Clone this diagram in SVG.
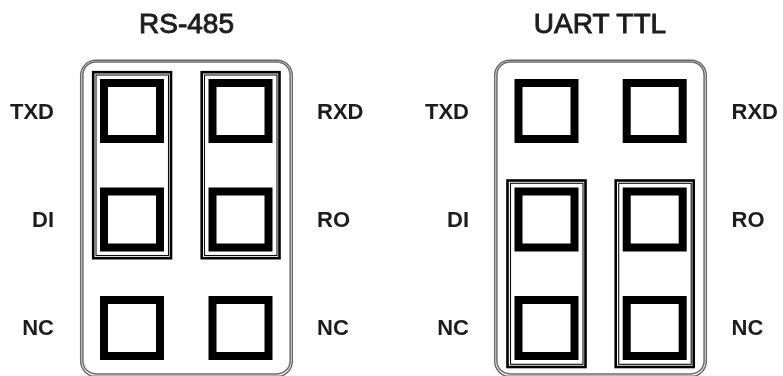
<svg xmlns="http://www.w3.org/2000/svg" width="783" height="376" viewBox="0 0 783 376">
<defs>
<filter id="soft" x="0" y="0" width="783" height="376" filterUnits="userSpaceOnUse"><feGaussianBlur stdDeviation="0.55"/></filter>
<rect id="pin" width="56" height="56"/>
</defs>
<style>
.t{font-family:"Liberation Sans",Arial,sans-serif;fill:#1c1c1c}
.h{font-size:28px;text-anchor:middle;stroke:#1c1c1c;stroke-width:.9}
.l{font-size:22px;font-weight:bold}
.e{text-anchor:end}
.fo{fill:none;stroke:#6a6a6a;stroke-width:1.5}
.fi{fill:none;stroke:#6a6a6a;stroke-width:1.5}
.go{fill:none;stroke:#000;stroke-width:2.6}
.gi{fill:none;stroke:#111;stroke-width:1.1}
.p{fill:#fff;stroke:#000;stroke-width:8}
</style>
<rect width="783" height="376" fill="#fff"/>
<g filter="url(#soft)">
<g id="rs485">
<text class="t h" x="186.500" y="33">RS-485</text>
<rect class="fo" x="80.700" y="60.300" width="211.600" height="316" rx="15"/>
<rect class="fi" x="82.900" y="61.900" width="207.200" height="312" rx="13"/>
<g id="rs485-group-left"><rect class="go" x="93.200" y="72.200" width="77.800" height="186"/><rect class="gi" x="96" y="75" width="72.500" height="180.500"/></g>
<g id="rs485-group-right"><rect class="go" x="201.700" y="72.200" width="77.800" height="186"/><rect class="gi" x="204.500" y="75" width="72.500" height="180.500"/></g>
<g id="rs485-txd"><use href="#pin" class="p" x="104" y="83"/><text class="t l e" x="54" y="119">TXD</text></g>
<g id="rs485-rxd"><use href="#pin" class="p" x="212.500" y="83"/><text class="t l" x="317" y="119">RXD</text></g>
<g id="rs485-di"><use href="#pin" class="p" x="104" y="191.500"/><text class="t l e" x="54" y="227">DI</text></g>
<g id="rs485-ro"><use href="#pin" class="p" x="212.500" y="191.500"/><text class="t l" x="317" y="227">RO</text></g>
<g id="rs485-nc1"><use href="#pin" class="p" x="104" y="300"/><text class="t l e" x="54" y="335">NC</text></g>
<g id="rs485-nc2"><use href="#pin" class="p" x="212.500" y="300"/><text class="t l" x="317" y="335">NC</text></g>
</g>
<g id="uart">
<text class="t h" x="600" y="33">UART TTL</text>
<rect class="fo" x="494.700" y="60.300" width="211.600" height="316" rx="15"/>
<rect class="fi" x="496.900" y="61.900" width="207.200" height="312" rx="13"/>
<g id="uart-group-left"><rect class="go" x="507.500" y="180.500" width="78" height="186.500"/><rect class="gi" x="510.500" y="183.300" width="72.500" height="181"/></g>
<g id="uart-group-right"><rect class="go" x="615.700" y="180.500" width="78" height="186.500"/><rect class="gi" x="618.700" y="183.300" width="72.500" height="181"/></g>
<g id="uart-txd"><use href="#pin" class="p" x="518.500" y="83"/><text class="t l e" x="469" y="119">TXD</text></g>
<g id="uart-rxd"><use href="#pin" class="p" x="626.700" y="83"/><text class="t l" x="731.500" y="119">RXD</text></g>
<g id="uart-di"><use href="#pin" class="p" x="518.500" y="191.500"/><text class="t l e" x="469" y="227">DI</text></g>
<g id="uart-ro"><use href="#pin" class="p" x="626.700" y="191.500"/><text class="t l" x="731.500" y="227">RO</text></g>
<g id="uart-nc1"><use href="#pin" class="p" x="518.500" y="300"/><text class="t l e" x="469" y="335">NC</text></g>
<g id="uart-nc2"><use href="#pin" class="p" x="626.700" y="300"/><text class="t l" x="731.500" y="335">NC</text></g>
</g>
</g>
<g id="connectors"/>
</svg>
